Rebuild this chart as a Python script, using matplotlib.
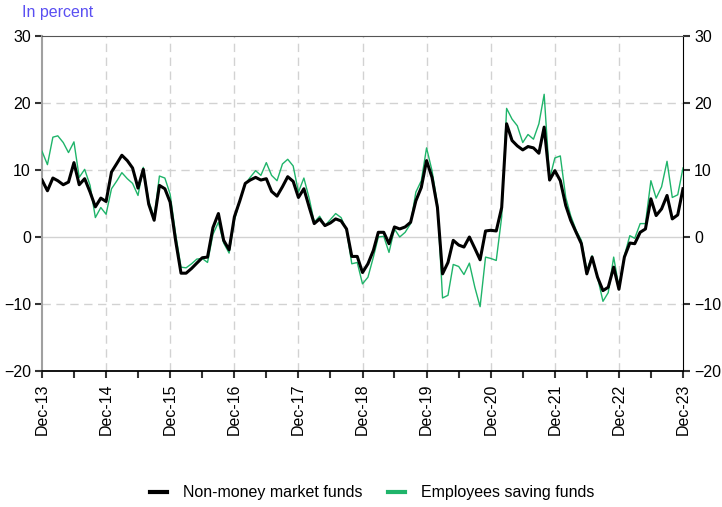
import numpy as np
import pandas as pd
import matplotlib
matplotlib.use("Agg")
import matplotlib.pyplot as plt
import matplotlib.dates as mdates
from matplotlib.lines import Line2D

plt.rcParams['font.family'] = ['Liberation Sans', 'DejaVu Sans']

# monthly, Dec-13 .. Dec-23 (annual growth, in percent)
dates = pd.date_range("2013-12-01", "2023-12-01", freq="MS")

non_money = [
    8.5, 6.9, 8.8, 8.4, 7.8, 8.2, 11.1, 7.8, 8.7, 6.7, 4.5, 5.8,
    5.3, 9.7, 11.0, 12.2, 11.4, 10.3, 7.3, 10.1, 4.9, 2.5, 7.7, 7.2,
    5.2, -0.5, -5.4, -5.4, -4.7, -3.9, -3.1, -3.0, 1.4, 3.5, -0.5, -1.9,
    3.0, 5.4, 8.0, 8.5, 8.9, 8.5, 8.7, 6.8, 6.1, 7.5, 9.0, 8.3,
    5.9, 7.2, 4.4, 2.0, 2.7, 1.7, 2.1, 2.7, 2.4, 1.2, -2.9, -2.9,
    -5.3, -4.0, -2.0, 0.7, 0.7, -1.0, 1.5, 1.2, 1.5, 2.2, 5.4, 7.4,
    11.4, 8.9, 4.4, -5.5, -3.8, -0.5, -1.2, -1.5, 0.0, -1.7, -3.4, 0.9,
    1.0, 0.9, 4.4, 16.9, 14.4, 13.6, 13.0, 13.5, 13.3, 12.5, 16.4, 8.5,
    9.9, 8.4, 4.7, 2.5, 0.7, -1.0, -5.5, -3.0, -6.0, -8.0, -7.5, -4.5,
    -7.8, -3.0, -0.9, -1.0, 0.7, 1.2, 5.7, 3.2, 4.2, 6.2, 2.7, 3.3,
    7.2,
]

employees_saving = [
    12.8, 10.8, 14.9, 15.1, 14.1, 12.6, 14.2, 8.9, 10.1, 7.7, 2.9, 4.4,
    3.4, 7.2, 8.4, 9.6, 8.7, 8.0, 6.2, 10.4, 5.4, 2.9, 9.1, 8.8,
    6.4, 0.5, -4.5, -4.6, -4.0, -3.3, -3.2, -3.8, 0.4, 2.2, -0.9, -2.4,
    2.5, 5.4, 7.9, 8.9, 9.9, 9.2, 11.1, 9.2, 8.4, 10.9, 11.6, 10.6,
    6.7, 8.8, 5.7, 2.2, 3.1, 1.7, 2.6, 3.5, 2.9, 1.0, -4.0, -3.8,
    -7.0, -6.0, -3.0, 0.0, 0.1, -2.3, 1.2, 0.0, 0.7, 2.0, 6.7, 8.4,
    13.3, 9.9, 4.9, -9.1, -8.7, -4.1, -4.4, -5.6, -3.9, -7.5, -10.4, -3.0,
    -3.2, -3.5, 3.0, 19.2, 17.6, 16.6, 14.1, 15.3, 14.6, 16.9, 21.3, 8.7,
    11.8, 12.1, 5.9, 3.2, 1.0, -0.5, -5.0, -2.8, -6.0, -9.6, -8.3, -3.0,
    -7.5, -2.8, 0.2, -0.2, 2.0, 2.0, 8.4, 5.8, 7.5, 11.3, 5.9, 6.3,
    10.3,
]

y_ticks = [-20, -10, 0, 10, 20, 30]

fig = plt.figure(figsize=(7.22, 5.07), dpi=100)
ax = fig.add_axes([42/722, 1-371/507, (683-42)/722, (371-36)/507])

green = "#1fb46a"
ax.plot(dates, employees_saving, color=green, lw=1.0, zorder=3)
ax.plot(dates, non_money, color="black", lw=2.2, zorder=4)

ax.set_xlim(dates[0], dates[-1])
ax.set_ylim(-20, 30)
ax.set_yticks(y_ticks)

# grid
for y in [-10, 10, 20]:
    ax.axhline(y, color="#d2d2d2", lw=1.0, ls=(0, (6, 4)), zorder=1)
ax.axhline(0, color="#d2d2d2", lw=1.0, zorder=1)
years = pd.date_range("2014-12-01", "2022-12-01", freq="12MS")
for d in years:
    ax.axvline(d, color="#d2d2d2", lw=1.0, ls=(0, (6, 4)), zorder=1)

ax.xaxis.set_major_locator(mdates.MonthLocator(bymonth=12))
ax.xaxis.set_minor_locator(mdates.MonthLocator(bymonth=6))
ax.xaxis.set_major_formatter(mdates.DateFormatter("%b-%y"))
ax.tick_params(axis="x", which="both", rotation=90, labelsize=11.5, length=5,
               width=1.5, color="#333333", pad=4)
ax.tick_params(axis="y", labelsize=11.5, length=5, width=1.5, color="#333333",
               right=True, labelright=True, pad=3)

ax.spines["left"].set_color("#a0a0a0")
ax.spines["left"].set_linewidth(1.5)
ax.spines["top"].set_color("#555555")
ax.spines["right"].set_color("black")
ax.spines["bottom"].set_color("black")
ax.spines["bottom"].set_linewidth(1.3)

fig.text(22/722, 1-12/507, "In percent", color="#5a4ff2", fontsize=11.5, va="center", ha="left")

handles = [Line2D([], [], color="black", lw=3),
           Line2D([], [], color=green, lw=3)]
labels = ["Non-money market funds", "Employees saving funds"]
fig.legend(handles, labels, loc="center", bbox_to_anchor=(372/722, 1-493/507),
           ncol=2, frameon=False, fontsize=11.5, handlelength=1.05, columnspacing=1.6,
           handletextpad=1.0)

fig.savefig("out.png", dpi=100)
